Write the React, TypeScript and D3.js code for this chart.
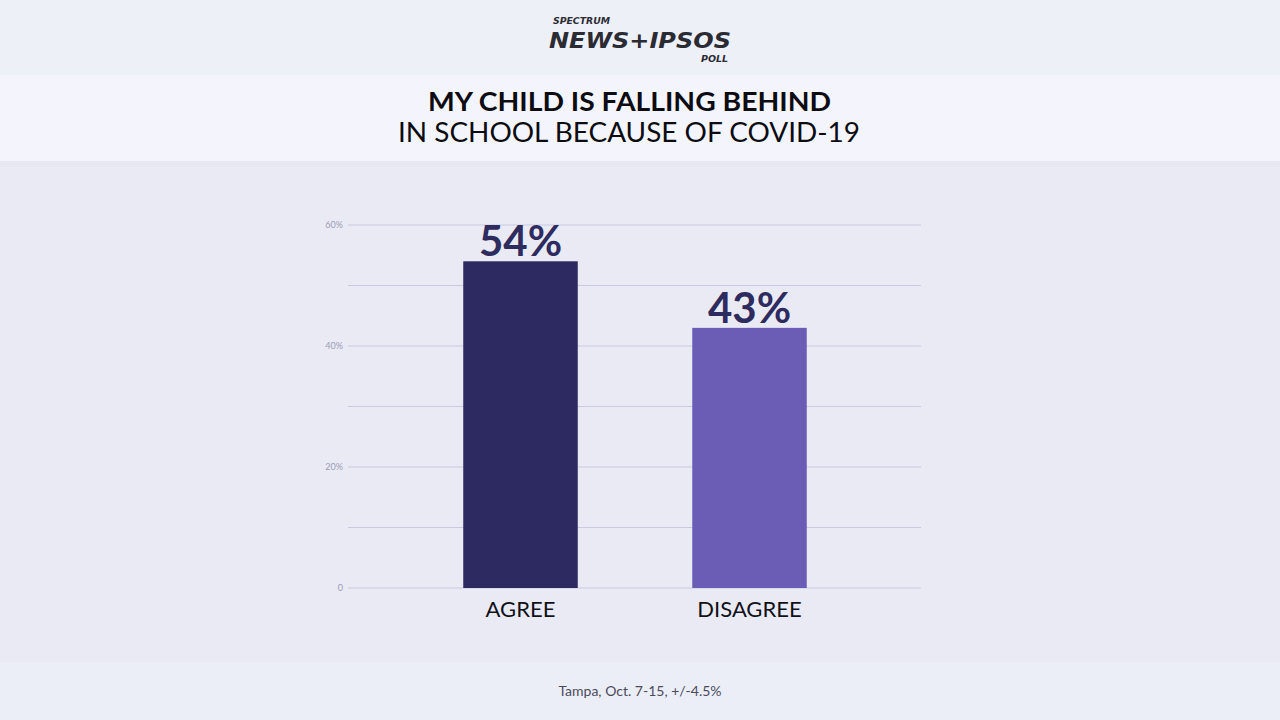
import * as d3 from "d3";

const categories = ["AGREE", "DISAGREE"];
const values = [54, 43];
const barColors = ["#2d2961", "#6b5db6"];
const tickValues = [0, 10, 20, 30, 40, 50, 60];
const tickLabels = ["0", "", "20%", "", "40%", "", "60%"];

const W = 1280;
const H = 720;

export default function App() {
  const x = d3.scaleBand<string>().domain(categories).range([406, 864]).paddingInner(0.5).paddingOuter(0.25);
  const y = d3.scaleLinear().domain([0, 60]).range([588, 225]);

  return (
    <svg
      width={W}
      height={H}
      style={{ position: "fixed", left: 0, top: 0, display: "block" }}
      fontFamily="Lato, 'Open Sans', sans-serif"
    >
      <rect width={W} height={H} fill="#e9eaf4" />
      <rect width={W} height={75} fill="#eef0f8" />
      <rect y={75} width={W} height={86} fill="#f4f5fc" />
      <rect y={161} width={W} height={6} fill="#e6e7f1" />
      <rect y={662} width={W} height={58} fill="#eceef7" />

      {/* logo */}
      <g fontStyle="italic" fontWeight={900} fill="#2b2b33" fontFamily="'DejaVu Sans', sans-serif">
        <text x={553} y={24} fontSize={9} textLength={57} lengthAdjust="spacingAndGlyphs">SPECTRUM</text>
        <text x={549} y={48} fontSize={22} textLength={182} lengthAdjust="spacingAndGlyphs">NEWS+IPSOS</text>
        <text x={701} y={62} fontSize={8} textLength={27} lengthAdjust="spacingAndGlyphs">POLL</text>
      </g>

      {/* title */}
      <text x={629.5} y={111} textAnchor="middle" fontSize={26} fontWeight={700} fill="#0c0c12"
        textLength={403} lengthAdjust="spacingAndGlyphs">MY CHILD IS FALLING BEHIND</text>
      <text x={629} y={142} textAnchor="middle" fontSize={26} fontWeight={400} fill="#0c0c12"
        textLength={462} lengthAdjust="spacingAndGlyphs">IN SCHOOL BECAUSE OF COVID-19</text>

      {/* grid */}
      {tickValues.map((t, i) => (
        <g key={t}>
          <line x1={348} x2={921} y1={y(t)} y2={y(t)} stroke="#c9c9df" strokeWidth={1} />
          <text x={343} y={y(t)} dy="0.35em" textAnchor="end" fontSize={9} fill="#9c9cb4">{tickLabels[i]}</text>
        </g>
      ))}

      {/* bars */}
      {categories.map((c, i) => (
        <g key={c}>
          <rect x={x(c)} y={y(values[i])} width={x.bandwidth()} height={y(0) - y(values[i])} fill={barColors[i]} />
          <text x={(x(c) || 0) + x.bandwidth() / 2} y={y(values[i]) - 5} textAnchor="middle"
            fontSize={42} fontWeight={700} fill="#2e2b5f">{values[i]}%</text>
          <text x={(x(c) || 0) + x.bandwidth() / 2} y={617} textAnchor="middle"
            fontSize={22} fill="#111118">{c}</text>
        </g>
      ))}

      {/* footer */}
      <text x={640} y={696} textAnchor="middle" fontSize={14} fill="#4a4a5c">Tampa, Oct. 7-15, +/-4.5%</text>
    </svg>
  );
}
